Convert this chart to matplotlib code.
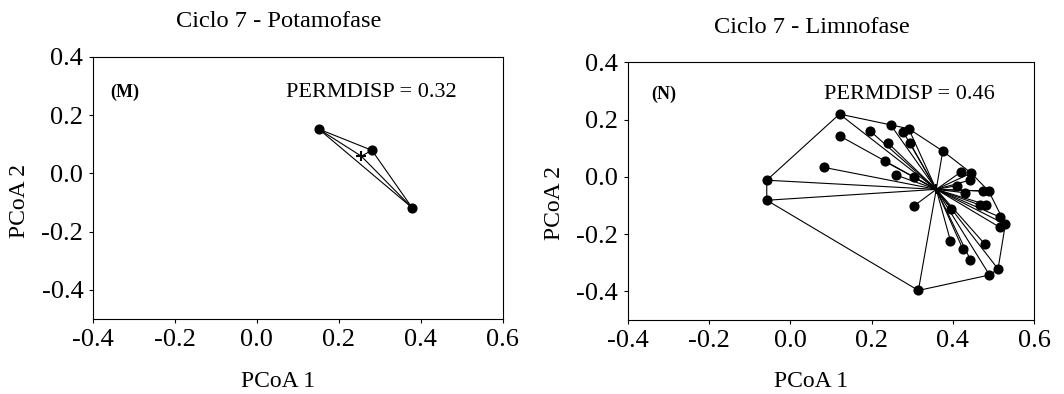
# ---------------------------------------------------------------------------- #
#                                   LIBRARIES                                  #
# ---------------------------------------------------------------------------- #
import numpy as np
import matplotlib
matplotlib.use("Agg")
import matplotlib.pyplot as plt

# ---------------------------------------------------------------------------- #
#                                     DATA                                     #
# ---------------------------------------------------------------------------- #
# Ciclo 7 - Potamofase
pota_x = [0.151, 0.281, 0.379]
pota_y = [0.152, 0.079, -0.118]
pota_centroid = (0.255, 0.059)
pota_permdisp = 0.32

# Ciclo 7 - Limnofase
limno_x = [0.121, 0.121, 0.082, -0.058, -0.058, 0.315, 0.197, 0.247, 0.241,
           0.278, 0.291, 0.294, 0.232, 0.260, 0.304, 0.305, 0.375, 0.420,
           0.445, 0.441, 0.410, 0.430, 0.474, 0.488, 0.467, 0.481, 0.396,
           0.516, 0.529, 0.516, 0.394, 0.424, 0.443, 0.479, 0.511, 0.490]
limno_y = [0.219, 0.143, 0.033, -0.012, -0.082, -0.397, 0.159, 0.181, 0.117,
           0.156, 0.168, 0.119, 0.054, 0.006, -0.002, -0.101, 0.090, 0.017,
           0.013, -0.012, -0.031, -0.056, -0.050, -0.050, -0.099, -0.097, -0.113,
           -0.141, -0.166, -0.177, -0.224, -0.251, -0.290, -0.236, -0.322, -0.343]
limno_centroid = (0.359, -0.044)
limno_permdisp = 0.46

x_ticks = [-0.4, -0.2, 0.0, 0.2, 0.4, 0.6]
y_ticks = [-0.4, -0.2, 0.0, 0.2, 0.4]

# ---------------------------------------------------------------------------- #
#                                    CONFIG                                    #
# ---------------------------------------------------------------------------- #
plt.rcParams["font.family"] = ["Liberation Serif", "DejaVu Serif"]
plt.rcParams["axes.unicode_minus"] = False


def convex_hull(xs, ys):
    """Monotone chain convex hull, returns closed list of (x, y)."""
    pts = sorted(set(zip(xs, ys)))

    def cross(o, a, b):
        return (a[0] - o[0]) * (b[1] - o[1]) - (a[1] - o[1]) * (b[0] - o[0])

    lower, upper = [], []
    for p in pts:
        while len(lower) >= 2 and cross(lower[-2], lower[-1], p) <= 0:
            lower.pop()
        lower.append(p)
    for p in reversed(pts):
        while len(upper) >= 2 and cross(upper[-2], upper[-1], p) <= 0:
            upper.pop()
        upper.append(p)
    hull = lower[:-1] + upper[:-1]
    hull.append(hull[0])
    return np.array(hull)


def draw_panel(ax, xs, ys, centroid, tag, permdisp, tag_pos, perm_pos):
    cx, cy = centroid
    # spokes from the centroid
    for x, y in zip(xs, ys):
        ax.plot([cx, x], [cy, y], color="black", lw=0.8, zorder=2)
    # convex hull
    hull = convex_hull(xs, ys)
    ax.plot(hull[:, 0], hull[:, 1], color="black", lw=0.8, zorder=2)
    ax.plot(xs, ys, "o", color="black", ms=6.3, zorder=3)
    ax.plot(cx, cy, "+", color="black", ms=7, mew=1.5, zorder=4)

    ax.set_xlim(-0.4, 0.6)
    ax.set_ylim(-0.5, 0.4)
    ax.set_xticks(x_ticks)
    ax.set_yticks(y_ticks)
    ax.set_xticklabels([f"{t:.1f}" for t in x_ticks])
    ax.set_yticklabels([f"{t:.1f}" for t in y_ticks])
    ax.tick_params(direction="out", length=3, width=0.8, labelsize=19, pad=4)
    for sp in ax.spines.values():
        sp.set_linewidth(0.8)

    ax.set_xlabel("PCoA 1", fontsize=17)
    ax.set_ylabel("PCoA 2", fontsize=17)
    ax.xaxis.set_label_coords(0.451, -0.198)
    ax.yaxis.set_label_coords(-0.154, 0.452)

    ax.text(tag_pos[0], tag_pos[1], tag, transform=ax.transAxes,
            fontsize=13, fontweight="bold", va="baseline")
    ax.text(perm_pos[0], perm_pos[1], f"PERMDISP = {permdisp:.2f}",
            transform=ax.transAxes, fontsize=16, va="baseline")


def main():
    fig = plt.figure(figsize=(10.64, 3.94), dpi=100)
    ax1 = fig.add_axes([0.0874, 0.190, 0.385, 0.666])
    ax2 = fig.add_axes([0.590, 0.188, 0.382, 0.654])

    draw_panel(ax1, pota_x, pota_y, pota_centroid, "(M)", pota_permdisp,
               (0.041, 0.848), (0.471, 0.845))
    draw_panel(ax2, limno_x, limno_y, limno_centroid, "(N)", limno_permdisp,
               (0.057, 0.858), (0.482, 0.858))

    fig.text(0.2618, 0.931, "Ciclo 7 - Potamofase", ha="center",
             va="baseline", fontsize=17.6)
    fig.text(0.7632, 0.916, "Ciclo 7 - Limnofase", ha="center",
             va="baseline", fontsize=17.6)

    fig.savefig("out.png", dpi=100)


# ---------------------------------------------------------------------------- #
#                                     MAIN                                     #
# ---------------------------------------------------------------------------- #
if __name__ == "__main__":
    main()
